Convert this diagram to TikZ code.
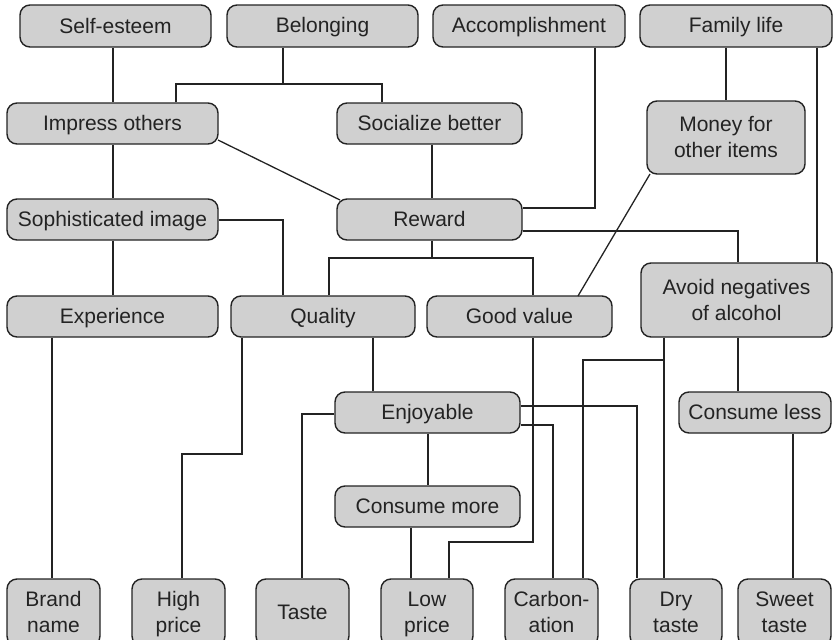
\documentclass[tikz,border=0pt]{standalone}
\usepackage{fontspec}
\setmainfont{Liberation Sans}
\definecolor{boxfill}{RGB}{208,208,208}
\definecolor{ink}{RGB}{35,35,35}
\newcommand\bst{\rule[-4pt]{0pt}{22pt}}
\tikzset{
  box/.style={draw=ink, fill=boxfill, line width=1.4pt, rounded corners=10pt,
    inner sep=0pt, align=center, text=ink,
    font=\fontsize{21}{26}\selectfont},
  link/.style={draw=ink, line width=1.3pt}
}
\newcommand\bx[6]{\node[box, minimum width={(#4-#2)*1pt}, minimum height={(#5-#3)*1pt}] (#1) at ({(#2+#4)/2},{(#3+#5)/2}) {\bst #6};}
\begin{document}
\begin{tikzpicture}[x=1pt,y=-1pt]
\useasboundingbox (0,0) rectangle (836,640);
\clip (0,0) rectangle (836,640);
% top row
\bx{se}{20}{5}{211}{47}{Self-esteem}
\bx{bel}{227}{5}{418}{47}{Belonging}
\bx{acc}{433}{5}{625}{47}{Accomplishment}
\bx{fam}{640}{5}{832}{47}{Family life}
% row 2
\bx{imp}{7}{103}{218}{144}{Impress others}
\bx{soc}{337}{103}{522}{144}{Socialize better}
\bx{mon}{647}{101}{805}{174}{Money for\\\bst other items}
% row 3
\bx{soph}{7}{199}{218}{240}{Sophisticated image}
\bx{rew}{337}{199}{522}{240}{Reward}
% row 4
\bx{exp}{7}{296}{218}{337}{Experience}
\bx{qua}{231}{296}{415}{337}{Quality}
\bx{gv}{427}{296}{612}{337}{Good value}
\bx{avo}{641}{263}{832}{337}{Avoid negatives\\\bst of alcohol}
% row 5
\bx{enj}{335}{392}{520}{433}{Enjoyable}
\bx{cl}{679}{392}{831}{433}{Consume less}
\bx{cm}{335}{486}{520}{527}{Consume more}
% bottom row
\bx{bn}{7}{579}{100}{646}{Brand\\\bst name}
\bx{hp}{132}{579}{225}{646}{High\\\bst price}
\bx{ta}{256}{579}{349}{646}{Taste}
\bx{lp}{381}{579}{473}{646}{Low\\\bst price}
\bx{ca}{505}{579}{598}{646}{Carbon-\\\bst ation}
\bx{dt}{630}{579}{722}{646}{Dry\\\bst taste}
\bx{st}{738}{579}{831}{646}{Sweet\\\bst taste}

% connectors
\coordinate (impse) at (218,140);
\coordinate (rewnw) at (340,200);
\coordinate (monsw) at (650,174);
\coordinate (gvne) at (578,296);
\coordinate (avbr) at (664,360);
\draw[link] (se.south -| 113,0) -- (imp.north -| 113,0);
\draw[link] (bel.south -| 283,0) -- (283,84);
\draw[link] (imp.north -| 176,0) -- (176,84) -- (382,84) -- (soc.north -| 382,0);
\draw[link] (acc.south -| 595,0) -- (595,208) -- (rew.east |- 0,208);
\draw[link] (fam.south -| 726,0) -- (mon.north -| 726,0);
\draw[link] (fam.south -| 817,0) -- (avo.north -| 817,0);
\draw[link] (impse) -- (rewnw);
\draw[link] (imp.south -| 113,0) -- (soph.north -| 113,0);
\draw[link] (soc.south -| 432,0) -- (rew.north -| 432,0);
\draw[link] (soph.east |- 0,220) -- (283,220) -- (qua.north -| 283,0);
\draw[link] (rew.south -| 432,0) -- (432,258);
\draw[link] (qua.north -| 329,0) -- (329,258) -- (533,258) -- (gv.north -| 533,0);
\draw[link] (rew.east |- 0,231) -- (738,231) -- (avo.north -| 738,0);
\draw[link] (monsw) -- (gvne);
\draw[link] (soph.south -| 113,0) -- (exp.north -| 113,0);
\draw[link] (exp.south -| 52,0) -- (bn.north -| 52,0);
\draw[link] (qua.south -| 242,0) -- (242,454) -- (182,454) -- (hp.north -| 182,0);
\draw[link] (qua.south -| 373,0) -- (enj.north -| 373,0);
\draw[link] (enj.west |- 0,414) -- (302,414) -- (ta.north -| 302,0);
\draw[link] (enj.east |- 0,406) -- (637,406) -- (dt.north -| 637,0);
\draw[link] (enj.east |- 0,425) -- (553,425) -- (ca.north -| 553,0);
\draw[link] (enj.south -| 428,0) -- (cm.north -| 428,0);
\draw[link] (cm.south -| 411,0) -- (lp.north -| 411,0);
\draw[link] (gv.south -| 533,0) -- (533,542) -- (449,542) -- (lp.north -| 449,0);
\draw[link] (avo.south -| 664,0) -- (dt.north -| 664,0);
\draw[link] (avbr) -- (583,360) -- (ca.north -| 583,0);
\draw[link] (avo.south -| 738,0) -- (cl.north -| 738,0);
\draw[link] (cl.south -| 793,0) -- (st.north -| 793,0);
\end{tikzpicture}
\end{document}
